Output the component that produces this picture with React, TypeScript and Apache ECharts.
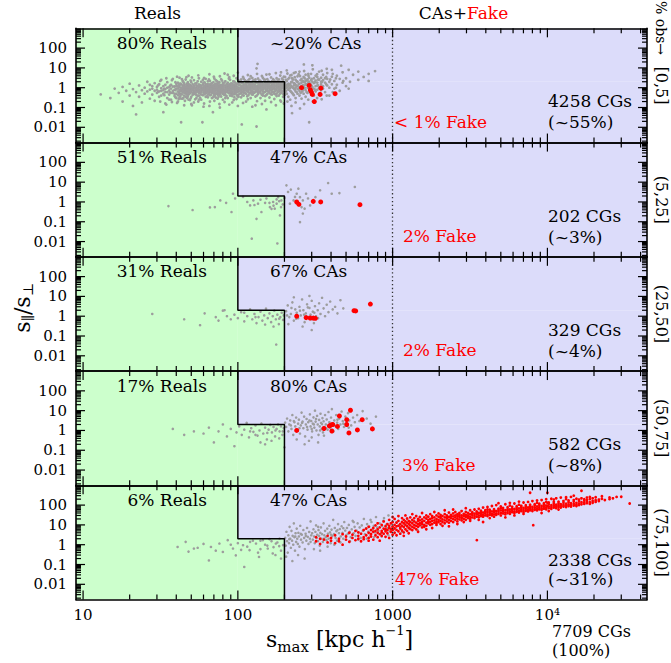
import React, { useEffect, useRef } from "react";
import * as echarts from "echarts";

// ---------- axis ranges & ticks ----------
const X_MIN = 9.0;
const X_MAX = 44000;
const Y_MIN = 0.0017;
const Y_MAX = 1000;
const X_TICKS = [10, 100, 1000, 10000];
const X_TICK_LABELS = ["10", "100", "1000", "10\u2074"];
const Y_TICKS = [0.01, 0.1, 1, 10, 100];
const Y_TICK_LABELS = ["0.01", "0.1", "1", "10", "100"];
const MINOR_MULT = [2, 3, 4, 5, 6, 7, 8, 9];
const X_DECADES = [1, 10, 100, 1000, 10000];
const Y_DECADES = [0.001, 0.01, 0.1, 1, 10, 100];

// ---------- selection boundaries ----------
const STEP: number[][] = [[100, Y_MAX], [100, 2], [200, 2], [200, Y_MIN]];
const FAKE_LINE_X = 1000;

// ---------- panel texts ----------
const BINS = ["[0,5]", "(5,25]", "(25,50]", "(50,75]", "(75,100]"];
const REALS_PCT = ["80% Reals", "51% Reals", "31% Reals", "17% Reals", "6% Reals"];
const CAS_PCT = ["~20% CAs", "47% CAs", "67% CAs", "80% CAs", "47% CAs"];
const FAKE_PCT = ["< 1% Fake", "2% Fake", "2% Fake", "3% Fake", "47% Fake"];
const CG_COUNTS = [4258, 202, 329, 582, 2338];
const CG_SHARE = ["(~55%)", "(~3%)", "(~4%)", "(~8%)", "(~31%)"];
const TOTAL_COUNT = 7709;
const TOTAL_SHARE = "(100%)";

type Cols = [number, number[]][];

// ---------- panel 1: [0,5] ----------
const GRAY_1: Cols = [
  [13, [0.46]], [15, [0.3]], [16, [0.9]], [17, [0.55]], [18, [0.2, 1.1]], [19, [0.7]], [20, [0.4, 1.6]],
  [21, [0.12, 0.85]], [22, [0.045, 0.6]], [23, [1.3, 0.35]], [24, [0.75, 0.18]], [25, [1.0, 0.5]],
  [26, [2.0, 0.65]], [27, [0.28, 1.4, 0.8]], [28, [0.9, 0.45, 1.2]], [29, [0.7, 1.7, 0.22]],
  [30, [1.1, 0.55, 0.8]], [31, [0.35, 1.5, 0.65]], [32, [2.5, 0.95, 0.4, 0.7]], [33, [0.058, 0.75, 1.2, 0.5]],
  [34, [0.16, 0.85, 0.6, 1.4]], [35, [1.9, 0.6, 0.3, 1.0]], [36, [1.05, 0.72, 0.45, 0.25]],
  [37, [1.4, 0.25, 0.9, 0.55]], [38, [0.55, 2.8, 0.68, 1.15]], [39, [1.15, 0.38, 0.8, 0.5]],
  [40, [0.5, 1.6, 0.9, 0.3, 1.2]], [41, [0.9, 0.42, 1.8, 0.2, 0.65, 1.2]], [42, [0.65, 1.25, 0.33, 3.2, 0.8, 0.5]],
  [43, [0.018, 0.8, 1.5, 0.5, 1.0, 0.28, 0.7]], [44, [1.0, 0.28, 0.6, 2.2, 0.85, 1.3]],
  [45, [0.75, 1.35, 0.4, 0.13, 0.55, 1.7, 0.95]], [46, [0.55, 1.1, 2.6, 0.85, 0.35, 0.7]],
  [47, [0.95, 0.3, 1.6, 0.62, 1.2, 0.45, 0.8]], [48, [0.7, 0.45, 1.2, 4.0, 0.9, 0.25, 1.5]],
  [49, [1.4, 0.8, 0.24, 0.52, 1.0, 0.62]], [50, [0.9, 0.6, 1.9, 0.35, 1.2, 0.75, 0.15]],
  [52, [0.72, 1.3, 0.18, 0.48, 2.4, 0.95, 0.6, 1.1]], [54, [1.05, 0.58, 0.3, 1.7, 0.8, 0.42, 1.3]],
  [56, [0.82, 0.4, 1.45, 3.0, 0.66, 1.1, 0.25, 0.55]], [58, [0.95, 0.25, 0.6, 2.0, 1.25, 0.75, 0.45]],
  [59, [0.018]], [60, [0.7, 1.25, 0.45, 0.11, 1.8, 0.9, 0.58, 1.05]], [62, [1.1, 0.52, 0.85, 2.8, 0.35, 0.68, 1.5]],
  [64, [0.6, 1.5, 0.33, 0.95, 1.2, 0.78, 0.45, 2.1]], [66, [0.78, 2.2, 0.42, 1.2, 0.2, 0.95, 0.6, 1.45]],
  [68, [1.0, 0.55, 1.7, 0.3, 0.82, 1.3, 0.68]], [69, [0.058]], [70, [0.88, 0.38, 1.35, 3.6, 0.65, 1.1, 0.5, 0.75]],
  [72, [1.15, 0.5, 2.4, 0.75, 0.95, 0.32, 1.6]], [74, [0.62, 1.05, 0.28, 1.6, 0.85, 1.3, 0.45, 2.0]],
  [76, [0.95, 0.44, 1.9, 0.7, 0.15, 1.2, 0.58, 0.82]], [78, [1.3, 0.6, 0.36, 2.7, 0.9, 1.05, 0.72]],
  [80, [0.8, 1.15, 0.5, 1.75, 0.25, 0.95, 0.62, 1.4]], [83, [1.0, 0.42, 2.1, 0.68, 1.25, 0.85, 0.55, 0.3]],
  [86, [0.72, 1.45, 0.3, 4.5, 0.95, 1.15, 0.6, 1.8]], [89, [1.2, 0.55, 0.85, 2.5, 0.4, 1.0, 0.7, 1.5]],
  [92, [0.65, 1.6, 0.38, 1.05, 0.18, 0.88, 1.3, 0.52]], [95, [0.9, 0.48, 2.0, 1.3, 0.7, 1.1, 0.33, 0.6]],
  [98, [1.1, 0.6, 0.27, 3.0, 0.78, 1.45, 0.92, 0.45]], [101, [0.85, 1.4, 0.45, 2.3, 1.0, 0.65, 1.7, 0.35]],
  [105, [1.0, 0.55, 1.8, 0.33, 0.72, 1.25, 0.88, 2.6]], [106, [0.014]],
  [109, [1.25, 0.68, 0.4, 2.9, 0.95, 1.5, 0.55, 0.8]], [113, [0.9, 1.6, 0.5, 0.2, 1.1, 0.72, 1.3, 2.1]],
  [117, [1.35, 0.75, 2.4, 0.42, 1.0, 0.6, 1.7, 0.88]], [121, [0.95, 1.9, 0.58, 0.3, 3.8, 1.2, 0.75, 1.45]],
  [125, [1.15, 0.65, 1.55, 0.45, 0.9, 2.2, 1.3, 0.52]], [130, [0.8, 1.3, 2.6, 0.36, 0.13, 1.05, 0.62, 1.7]],
  [132, [0.011, 9.5]], [134, [16]], [135, [1.05, 0.6, 1.75, 0.48, 1.3, 0.85, 2.9, 0.7]],
  [140, [1.4, 0.72, 0.3, 2.2, 0.92, 1.15, 0.55, 1.8]], [145, [0.85, 1.2, 0.5, 3.2, 1.0, 0.66, 1.55, 0.4]],
  [150, [1.1, 0.62, 1.85, 0.38, 0.22, 0.9, 1.35, 2.5]], [155, [0.95, 1.5, 0.7, 2.7, 1.2, 0.48, 0.82, 1.9]],
  [160, [1.25, 0.55, 0.9, 4.8, 0.32, 1.6, 1.05, 0.7]], [166, [0.8, 1.6, 0.45, 1.15, 2.1, 0.95, 0.6, 1.35]],
  [172, [1.05, 2.3, 0.6, 0.27, 1.4, 0.85, 1.8, 0.5]], [178, [0.75, 1.3, 0.5, 3.0, 1.1, 1.7, 0.9, 0.38]],
  [184, [1.2, 0.65, 1.9, 0.4, 1.0, 2.6, 0.8, 1.45]], [190, [0.9, 1.5, 0.55, 6.0, 0.2, 1.25, 0.72, 2.0]],
  [196, [1.1, 0.7, 2.5, 0.35, 1.6, 0.95, 1.3, 0.5]], [202, [1.3, 0.6, 3.5, 0.9, 1.8, 0.45]],
  [207, [7.5, 1.0, 0.5, 2.2, 1.4]], [212, [0.8, 2.8, 0.35, 1.2, 1.6]], [218, [1.5, 0.7, 4.2, 1.0, 0.25]],
  [224, [1.1, 2.0, 0.55, 0.052, 3.0]], [230, [0.9, 1.7, 0.42, 1.3, 5.5]], [236, [1.4, 0.65, 2.5, 0.3, 1.0]],
  [243, [2.0, 0.85, 1.2, 0.5, 3.8]], [250, [1.0, 1.6, 0.4, 6.5, 0.7]], [258, [1.8, 0.6, 2.8, 1.2, 0.28]],
  [266, [1.3, 0.9, 3.5, 0.5, 2.0]], [267, [15]], [274, [0.75, 2.2, 1.5, 0.35, 4.5]], [282, [1.6, 0.55, 1.0, 2.6]],
  [289, [0.018, 1.2, 3.2, 0.7, 1.9]], [297, [2.4, 0.85, 1.4, 0.45, 5.0]], [303, [13.5, 1.1, 0.6, 2.0]],
  [310, [1.7, 3.0, 0.9, 0.4]], [318, [1.2, 2.3, 0.65, 4.0]], [326, [0.8, 1.8, 3.5, 1.3]],
  [335, [2.6, 1.0, 0.5, 6.5]], [345, [1.5, 3.2, 0.75, 2.0]], [355, [0.9, 2.4, 4.5, 1.2]],
  [366, [1.8, 0.6, 3.0]], [378, [2.8, 1.3, 5.5]], [390, [1.0, 2.0, 0.4]], [405, [3.6, 1.5, 8.0]],
  [420, [2.2, 0.9]], [436, [1.4, 4.0]], [455, [2.8, 0.7]], [465, [13]], [475, [1.8, 6.0]], [500, [3.0, 1.2]],
  [530, [2.0]], [555, [4.5]], [600, [2.5, 6.5]], [650, [3.5]], [700, [5.0, 2.2]], [770, [6.9]],
  // in-between columns of the dense core
  [30.5, [0.62, 1.3]], [33.5, [0.9, 0.42]], [36.5, [0.58, 1.25]], [39.5, [0.75, 0.33, 1.9]],
  [41.5, [1.05, 0.56, 0.27, 1.45]], [42.5, [0.74, 1.62, 0.38]], [43.5, [0.93, 0.46, 2.7]],
  [44.5, [0.68, 1.15, 0.31, 1.9]], [45.5, [1.08, 0.63, 0.22]], [46.5, [0.79, 1.42, 0.48, 3.4]],
  [47.5, [0.58, 1.05, 0.36, 1.9]], [48.5, [0.84, 1.33, 0.52]], [49.5, [0.66, 1.12, 0.29, 2.3]],
  [51, [0.81, 1.48, 0.44, 0.57, 1.02]], [53, [0.93, 0.51, 1.62, 0.26, 0.7]], [55, [0.66, 1.18, 0.39, 2.1, 0.86]],
  [57, [1.02, 0.54, 1.36, 0.31, 0.73]], [59.5, [0.77, 1.5, 0.42, 2.5, 0.95]], [61, [0.88, 0.49, 1.23, 0.64, 1.85]],
  [63, [1.07, 0.6, 0.36, 1.4, 0.82]], [65, [0.7, 1.31, 0.5, 2.6, 0.96]], [67, [0.92, 0.44, 1.56, 0.66, 1.13]],
  [69.5, [0.81, 1.22, 0.34, 1.9, 0.57]], [71, [1.02, 0.62, 1.47, 0.41, 0.77]], [73, [0.74, 1.28, 0.52, 2.2, 0.93]],
  [75, [1.1, 0.56, 1.68, 0.35, 0.83]], [77, [0.86, 1.39, 0.47, 0.69, 1.05]], [79, [0.97, 0.58, 2.3, 0.78, 1.22]],
  [81.5, [0.73, 1.31, 0.44, 1.8, 0.6]], [84.5, [1.12, 0.64, 1.52, 0.38, 0.87]], [87.5, [0.81, 1.26, 0.53, 2.9, 0.98]],
  [90.5, [1.05, 0.59, 1.66, 0.42, 0.76]], [93.5, [0.88, 1.44, 0.48, 2.1, 1.16]], [96.5, [0.72, 1.22, 0.55, 0.95, 1.75]],
  [99.5, [1.03, 0.63, 1.58, 0.37, 0.82]], [103, [0.92, 1.32, 0.5, 2.0, 0.7]], [107, [1.15, 0.61, 1.72, 0.43, 0.86]],
  [111, [0.8, 1.41, 0.55, 2.4, 1.02]], [115, [1.08, 0.66, 1.9, 0.37, 0.84]], [119, [0.89, 1.5, 0.52, 1.18, 2.8]],
  [123, [1.22, 0.7, 1.66, 0.46, 0.95]], [127.5, [0.84, 1.4, 0.56, 2.4, 1.12]], [132.5, [1.14, 0.68, 1.92, 0.4, 0.9]],
  [137.5, [0.93, 1.58, 0.6, 1.2, 2.3]], [142.5, [1.25, 0.76, 1.75, 0.45, 1.0]], [147.5, [0.96, 1.45, 0.58, 2.6, 1.15]],
  [152.5, [1.2, 0.7, 1.7, 0.42, 0.88]], [157.5, [1.02, 1.62, 0.62, 2.2, 1.3]], [163, [1.15, 0.75, 1.8, 0.48, 0.92]],
  [169, [0.98, 1.52, 0.63, 2.7, 1.2]], [175, [1.27, 0.72, 1.95, 0.46, 0.88]], [181, [1.05, 1.6, 0.6, 2.3, 1.3]],
  [187, [1.32, 0.78, 1.85, 0.5, 0.98]], [193, [1.08, 1.7, 0.64, 2.9, 1.2]], [199, [1.24, 0.8, 1.6, 0.44]],
  [205, [1.1, 2.5, 0.7]], [215, [1.4, 0.95, 3.2]], [221, [1.9, 0.62, 1.2]], [227, [1.0, 2.6, 0.48]],
  [233, [1.6, 0.8, 3.4]], [240, [1.2, 2.1, 0.6]], [247, [1.5, 0.9, 4.8]], [254, [1.1, 2.4, 0.55]],
  [262, [2.2, 1.3, 0.7]], [270, [1.0, 1.9, 3.0]], [278, [1.4, 0.6, 2.5]], [286, [2.0, 1.1, 4.0]],
  [293, [1.6, 0.8]], [300, [1.2, 2.8]], [315, [1.9, 0.8]], [330, [1.3, 2.6]], [350, [2.0, 1.0]],
  [372, [1.5, 3.5]], [395, [2.6]], [430, [1.0, 3.0]], [480, [2.2]],
  // outer envelope of the cloud
  [31.5, [0.2, 2.2]], [34.5, [3.0, 0.14]], [37.5, [0.19, 2.4]], [40.5, [3.6, 0.17]], [50.5, [0.13, 3.3]],
  [55.5, [0.2, 4.2]], [60.5, [0.16, 3.1]], [65.5, [0.12, 4.8]], [70.5, [0.22, 2.9]], [76.5, [0.1, 3.8]],
  [82, [0.19, 5.2]], [88, [0.14, 3.4]], [94, [0.24, 4.0]], [100, [0.12, 5.8]], [108, [0.17, 3.5]],
  [116, [0.26, 4.4]], [124, [0.11, 3.1]], [133, [0.21, 5.0]], [143, [0.15, 3.9]], [153, [0.08, 4.6]],
  [164, [0.19, 3.3]], [176, [0.13, 5.5]], [188, [0.23, 4.1]], [198, [0.16, 3.6]], [209, [0.2, 5.2]],
  [222, [0.12, 4.4]], [236, [0.18, 6.0]], [252, [0.09, 3.9]], [268, [0.15, 7.0]], [285, [0.25, 5.0]],
  [305, [0.2, 8.5]], [325, [0.3, 4.8]], [348, [0.26, 7.2]], [375, [0.4, 9.0]], [410, [0.6, 5.0]], [520, [0.9, 8.0]],
];
const RED_1: number[][] = [
  [258, 1.0], [289, 1.3], [294, 0.79], [303, 0.46], [312, 0.2], [340, 0.46], [344, 0.95], [425, 0.5], [298, 0.62],
];

// ---------- panel 2: (5,25] ----------
const GRAY_2: Cols = [
  [35.6, [0.62]], [51, [0.39]], [66, [0.53]], [71, [0.55]], [77, [1.2]], [84, [0.9]], [91, [0.31]], [93, [2.6]],
  [96, [1.5]], [108, [1.8]], [115, [1.0]], [120, [0.67]], [123, [0.014]], [126, [1.2]], [128, [0.7]],
  [132, [0.14]], [135, [0.82]], [140, [1.3]], [142, [0.31]], [150, [0.9]], [153, [1.5]], [160, [0.9]],
  [161, [0.55]], [165, [0.45]], [169, [1.0]], [170, [0.65]], [173, [0.46]], [178, [0.82, 1.35]],
  [180, [0.008]], [182, [1.75]], [185, [1.1]], [187, [0.21]], [190, [0.55]], [191, [1.2]], [195, [0.75]],
  [200, [1.6]], [206, [6.9]], [211, [3.2]], [217, [0.82]], [220, [4.2]], [229, [1.2]], [234, [1.8]],
  [240, [2.6, 0.82]], [246, [4.7]], [252, [1.75, 0.096]], [258, [0.55]], [263, [1.2, 0.26]], [270, [0.46]],
  [276, [2.6]], [284, [1.5]], [293, [0.67]], [307, [1.0]], [317, [1.75]], [340, [3.9]], [383, [9.0]],
  [404, [2.6]], [453, [2.8]], [570, [5.7]],
];
const RED_2: number[][] = [[240, 1.0], [248, 0.76], [307, 1.07], [343, 1.0], [615, 0.73]];

// ---------- panel 3: (25,50] ----------
const GRAY_3: Cols = [
  [28, [1.3]], [45, [0.7]], [57, [0.35]], [61, [1.4]], [72, [0.9]], [75, [0.6]], [80, [1.9]], [82, [2.0]],
  [85, [1.0]], [90, [0.7]], [95, [1.2]], [100, [0.8]], [105, [1.6]], [110, [0.55, 1.5]], [115, [1.0]],
  [120, [2.2]], [124, [0.7]], [128, [1.3]], [130, [0.9]], [132, [0.45]], [136, [0.9]], [140, [1.7]],
  [144, [0.6]], [148, [1.1]], [150, [0.38]], [152, [2.4]], [156, [0.8]], [160, [1.4]], [164, [0.5]],
  [168, [1.0]], [170, [0.3]], [172, [1.9]], [176, [0.7]], [177, [0.037]], [180, [1.2]], [184, [0.4]],
  [185, [0.75]], [188, [0.9]], [192, [1.5]], [196, [0.65]], [198, [1.1]], [205, [1.8]], [208, [1.1]],
  [210, [3.5]], [212, [0.4]], [215, [0.9]], [220, [1.3]], [222, [2.6]], [225, [5.0]], [230, [0.6, 9.0]],
  [235, [2.2]], [238, [0.75]], [240, [1.5]], [245, [0.8]], [250, [3.0]], [252, [1.9]], [255, [1.1]],
  [260, [7.0]], [262, [0.3]], [265, [2.0]], [268, [1.2]], [270, [0.5]], [275, [1.4]], [280, [4.0]],
  [283, [2.8]], [285, [0.9]], [290, [2.6, 10.5]], [295, [1.2]], [298, [0.7]], [300, [6.0, 0.2]],
  [305, [1.7]], [310, [0.45]], [312, [1.5]], [315, [3.2]], [320, [1.0]], [328, [2.0]], [330, [0.8]],
  [335, [4.5]], [342, [1.3]], [350, [8.5]], [358, [2.5]], [366, [1.0]], [375, [3.8]], [385, [1.6]],
  [395, [5.5]], [410, [2.2]], [425, [3.0]], [440, [1.4]], [460, [6.4]], [480, [2.5]],
];
const RED_3: number[][] = [
  [240, 1.0], [276, 0.85], [293, 0.81], [307, 0.8], [317, 0.78], [563, 1.9], [577, 1.85], [718, 4.1],
];

// ---------- panel 4: (50,75] ----------
const GRAY_4: Cols = [
  [38, [1.2]], [45, [0.6]], [52, [0.9]], [60, [0.7]], [65, [1.4]], [70, [0.25]], [75, [0.9]], [80, [2.0]],
  [85, [0.5]], [90, [1.2]], [95, [0.16]], [98, [0.8]], [102, [1.6]], [106, [0.6]], [110, [1.1]],
  [114, [2.4]], [118, [0.45]], [120, [0.9]], [122, [1.3]], [126, [0.85]], [130, [1.8, 0.6]], [134, [0.55]],
  [138, [1.0]], [140, [0.25]], [142, [2.2]], [146, [0.7]], [150, [1.4, 0.2]], [154, [0.35]], [155, [0.75]],
  [158, [1.1]], [162, [1.9]], [165, [0.3]], [166, [0.8]], [170, [1.5]], [174, [0.5]], [175, [1.0]],
  [178, [1.2]], [182, [2.0]], [185, [0.4]], [186, [0.9]], [190, [1.6]], [194, [0.6]], [195, [0.9]],
  [198, [1.3]], [200, [0.14]], [202, [2.5]], [205, [1.5]], [208, [4.0]], [212, [0.9]], [215, [2.0]],
  [218, [3.2]], [220, [1.8]], [222, [1.2]], [225, [6.0]], [228, [0.6]], [230, [3.0]], [232, [2.6]],
  [235, [1.6]], [238, [4.5]], [240, [0.35]], [242, [1.0]], [245, [2.2]], [248, [3.5]], [250, [1.3]],
  [252, [0.7]], [255, [1.8]], [258, [8.0]], [260, [2.4]], [262, [2.8]], [265, [1.3]], [268, [5.0]],
  [270, [0.2]], [272, [0.5]], [275, [2.0]], [278, [3.8]], [280, [1.5]], [282, [1.1]], [285, [2.6]],
  [288, [0.3]], [290, [3.2]], [292, [6.5]], [295, [1.6]], [298, [3.0]], [300, [0.45, 1.2]], [302, [0.9]],
  [305, [2.2]], [308, [4.6]], [310, [2.0]], [312, [1.4]], [315, [10.0]], [318, [2.8]], [320, [3.8]],
  [322, [1.0]], [325, [5.5]], [328, [2.0]], [330, [0.25]], [332, [0.6]], [335, [3.4]], [338, [1.6]],
  [340, [1.0]], [342, [7.0]], [345, [2.4]], [348, [1.2]], [350, [2.1]], [352, [4.2]], [355, [0.8]],
  [358, [2.9]], [360, [0.55]], [362, [1.5]], [366, [6.0]], [370, [2.0, 1.3]], [375, [3.6]], [380, [1.1]],
  [385, [8.5]], [390, [2.6]], [395, [1.4]], [400, [4.5, 1.7]], [405, [12.0]], [410, [2.2]], [415, [0.9]],
  [420, [3.2]], [426, [1.7]], [432, [6.0]], [438, [2.5]], [440, [3.5]], [445, [1.2]], [452, [4.0]],
  [460, [2.0]], [468, [9.0]], [476, [3.0]], [480, [2.2]], [485, [1.5]], [495, [5.0]], [505, [2.4]],
  [515, [7.5]], [520, [1.4]], [525, [3.2]], [540, [1.8]], [555, [4.5]], [570, [2.6]], [590, [6.0]],
  [610, [3.0]], [640, [9.5]], [680, [4.0]], [720, [2.2]], [780, [5.0]],
];
const RED_4: number[][] = [
  [240, 1.0], [360, 1.25], [390, 1.7], [400, 1.9], [410, 2.0], [405, 0.94], [440, 1.6], [453, 5.4],
  [505, 3.5], [505, 2.0], [534, 10.5], [522, 0.75], [592, 1.06], [636, 3.5], [740, 1.2],
];

// ---------- panel 5: (75,100] ----------
const GRAY_5: Cols = [
  [40.8, [0.77]], [46, [1.4]], [48, [0.45]], [52, [0.64]], [55, [0.7]], [60, [1.1]], [65, [0.16]],
  [67, [0.77]], [72, [0.5]], [76, [1.15]], [80, [0.43]], [86, [1.7]], [90, [1.0]], [93, [0.64]],
  [97, [0.29]], [100, [1.2]], [105, [0.55]], [108, [0.94]], [110, [0.075]], [115, [0.8]], [119, [0.53]],
  [120, [1.4]], [125, [1.6]], [131, [1.15]], [135, [0.4]], [137, [0.24]], [140, [0.6, 1.6]], [145, [1.7]],
  [150, [1.0]], [155, [0.9]], [156, [0.64]], [160, [1.9]], [165, [1.5]], [168, [0.36]], [170, [0.75]],
  [175, [0.3]], [176, [1.15]], [180, [1.3]], [185, [0.85]], [186, [2.05]], [190, [0.5, 0.2]], [196, [0.95]],
  [202, [2.2]], [204, [0.9]], [205, [0.25]], [206, [4.5]], [208, [1.5]], [210, [0.4]], [212, [3.0]],
  [214, [1.2]], [215, [1.9]], [216, [8.0]], [218, [2.0]], [220, [0.7]], [222, [5.0]], [224, [1.6]],
  [225, [0.15]], [226, [2.8]], [228, [1.0]], [230, [12]], [232, [2.4]], [234, [0.5]], [235, [2.6]],
  [236, [3.8]], [238, [1.4]], [240, [6.5]], [242, [2.0]], [244, [1.1]], [245, [0.3]], [246, [4.0]],
  [248, [2.6]], [250, [0.8]], [253, [9.0]], [255, [3.5]], [256, [1.8]], [259, [3.2]], [262, [1.3]],
  [265, [5.5]], [268, [2.2]], [270, [0.2]], [271, [0.6]], [274, [3.6]], [275, [2.8]], [277, [1.6]],
  [280, [7.0]], [283, [2.5]], [286, [1.1]], [289, [4.4]], [292, [2.0]], [295, [15, 1.4]], [298, [3.0]],
  [302, [3.8]], [305, [1.8]], [308, [6.0]], [310, [0.6]], [311, [2.6]], [314, [1.2]], [317, [4.5]],
  [320, [9.5]], [323, [2.2]], [326, [3.2]], [329, [1.5]], [330, [8.0]], [332, [5.5]], [335, [2.8]],
  [338, [0.9]], [340, [0.5]], [341, [4.0]], [344, [7.5]], [347, [2.0]], [350, [3.4]], [354, [1.4]],
  [358, [12]], [360, [2.0]], [362, [3.0]], [366, [5.0]], [370, [2.4]], [374, [1.7]], [378, [6.5]],
  [380, [0.8]], [382, [3.6]], [386, [2.0]], [390, [9.0]], [394, [4.2]], [398, [1.2]], [400, [3.2]],
  [403, [5.8]], [408, [2.8]], [413, [18]], [418, [3.4]], [420, [1.0]], [423, [7.0]], [428, [2.2]],
  [433, [4.8]], [438, [1.6]], [440, [5.5]], [444, [11]], [450, [3.8]], [456, [6.2]], [460, [1.3]],
  [462, [2.6]], [468, [8.5]], [474, [4.0]], [480, [2.0, 6.8]], [487, [14]], [494, [5.2]], [500, [3.0]],
  [507, [7.0]], [514, [3.6]], [521, [10]], [528, [4.5]], [530, [1.5]], [536, [2.4]], [544, [6.0]],
  [552, [16]], [560, [3.8, 14]], [568, [8.0]], [576, [2.8]], [585, [5.2]], [594, [12]], [600, [1.8]],
  [603, [4.2]], [612, [7.5]], [622, [2.2]], [632, [9.5]], [642, [5.0]], [652, [20]], [662, [3.4]],
  [673, [6.8]], [680, [2.0]], [684, [11]], [695, [4.6]], [706, [8.2]], [718, [3.0]], [720, [18]],
  [730, [14]], [742, [6.0]], [755, [9.0]], [760, [2.4]], [768, [4.2]], [781, [25]], [795, [7.4]],
  [810, [5.0]], [825, [12]], [840, [3.6]], [850, [2.6]], [856, [8.8]], [872, [16]], [880, [22]],
  [888, [5.8]], [905, [10]], [922, [7.0]], [940, [30, 3.0]], [958, [4.8]], [977, [12]], [995, [8.5]],
  [1020, [6.0]], [1060, [14]], [1100, [9.0]], [1150, [4.5]], [1200, [11]], [1280, [7.5]], [1350, [16]],
  [1450, [5.5]], [1550, [9.5]], [1700, [12]],
];
const RED_5: Cols = [
  [320, [1.5, 2.4]], [340, [1.1, 2.0]], [360, [1.8]], [380, [1.3, 2.8]], [400, [2.2, 1.6]], [425, [1.2, 3.0]],
  [450, [2.0, 1.5]], [475, [3.4, 1.0]], [500, [2.6, 1.8]], [525, [4.0, 1.4]], [550, [2.2, 3.2]],
  [575, [1.7, 5.0]], [600, [2.8, 2.0, 4.2]], [625, [1.5, 3.6]], [650, [5.5, 2.4, 1.9]], [675, [3.0, 6.5]],
  [700, [2.2, 4.0, 8.0, 1.6]], [725, [3.5, 5.5, 2.6]], [750, [7.0, 1.8, 4.5]], [775, [3.0, 9.5, 5.0]],
  [800, [2.4, 6.0, 4.0, 12]], [825, [3.4, 7.5, 1.6]], [850, [5.0, 10, 2.8, 4.2]], [875, [6.5, 3.6, 15]],
  [900, [4.8, 8.5, 2.5, 6.0]], [925, [11, 3.8, 5.5]], [950, [7.0, 2.2, 18, 9.0]], [975, [4.5, 12, 6.2]],
  [1000, [8.0, 3.2, 25, 5.5, 14]], [1030, [10, 4.0, 6.8, 20]], [1060, [5.6, 13, 3.0, 8.5]],
  [1090, [9.2, 16, 4.8, 28]], [1120, [6.5, 11, 3.6, 7.5]], [1150, [14, 5.2, 22, 9.0]],
  [1180, [7.8, 12, 4.2, 18, 2.8]], [1210, [10, 6.0, 30, 15]], [1240, [8.5, 13, 5.0, 21]],
  [1270, [11, 7.0, 16, 3.8]], [1300, [9.5, 24, 6.2, 14]], [1340, [12, 8.0, 18, 5.5, 35]],
  [1380, [10, 15, 7.2, 22]], [1420, [13, 9.0, 28, 6.0]], [1460, [16, 11, 8.0, 20, 4.5]],
  [1500, [12, 25, 9.5, 17]], [1550, [14, 7.5, 19, 40, 11]], [1600, [16, 10, 24, 8.0]],
  [1650, [13, 21, 30, 9.0, 6.0]], [1700, [18, 12, 26, 15]], [1750, [14, 35, 10, 20]],
  [1800, [22, 16, 11, 28, 7.0]], [1860, [17, 13, 24, 45]], [1920, [20, 15, 30, 10, 12]],
  [1980, [18, 26, 14, 38]], [2040, [22, 16, 11, 32, 25]], [2100, [19, 28, 14, 9.0]],
  [2170, [24, 17, 35, 12, 55]], [2240, [21, 30, 15, 26]], [2310, [25, 18, 42, 13, 8.5]],
  [2380, [22, 32, 16, 28]], [2460, [27, 20, 38, 14, 60]], [2540, [24, 30, 18, 45]],
  [2620, [28, 21, 35, 15, 11]], [2700, [26, 40, 19, 32]], [2790, [30, 22, 50, 17, 24]],
  [2880, [28, 36, 20, 14]], [2970, [32, 25, 45, 18, 70]], [3070, [30, 40, 22, 28]],
  [3170, [35, 26, 55, 20, 16]], [3270, [32, 44, 24, 38]], [3380, [37, 28, 60, 22]], [3500, [1.7]],
  [3490, [34, 48, 26, 40]], [3600, [40, 30, 65, 24, 18]], [3720, [36, 52, 28, 44]],
  [3840, [42, 32, 75, 26, 14]], [3970, [38, 55, 30, 46]], [4100, [45, 34, 80, 28, 60]],
  [4240, [40, 58, 32, 50, 22]], [4380, [48, 36, 90, 30]], [4520, [44, 62, 34, 52, 26]],
  [4670, [50, 38, 100, 32]], [4830, [46, 66, 36, 56, 125]], [5000, [54, 40, 85, 30, 70]],
  [5170, [48, 72, 38, 58]], [5350, [56, 42, 110, 34, 24]], [5530, [52, 78, 40, 62]],
  [5720, [60, 46, 95, 36, 130]], [5920, [55, 82, 44, 66]], [6120, [64, 48, 120, 40, 30]],
  [6330, [58, 88, 46, 72]], [6550, [68, 52, 105, 42, 150]], [6780, [62, 92, 50, 78]],
  [7010, [72, 56, 135, 45, 36]], [7250, [66, 100, 52, 82]], [7500, [76, 58, 145, 48]],
  [7730, [420, 70, 105, 55, 88]], [8000, [80, 62, 160, 50]], [8100, [9.7]], [8280, [74, 112, 58, 95]],
  [8570, [85, 66, 170, 54, 130]], [8860, [78, 118, 62, 100]], [9170, [90, 70, 180, 58, 40]],
  [9490, [82, 125, 66, 105]], [9820, [95, 75, 200, 62, 145]], [10000, [420, 88, 130]],
  [10200, [86, 135, 70, 110, 50]], [10600, [100, 80, 210, 65]], [11000, [92, 145, 75, 118, 190]],
  [11400, [105, 85, 220, 70]], [11800, [98, 150, 80, 125, 60]], [12200, [110, 90, 240, 75]],
  [12700, [102, 160, 85, 130]], [13200, [118, 95, 250, 80, 200]], [13700, [108, 170, 90, 140]],
  [14200, [125, 100, 260, 85]], [14800, [115, 180, 95, 150, 300]], [15400, [130, 105, 210, 90]],
  [16000, [120, 190, 100, 160]], [16600, [530, 140, 110, 220]], [17300, [135, 115, 200, 170]],
  [18000, [150, 240, 125, 180]], [18800, [140, 200, 115, 260]], [19600, [160, 130, 220]],
  [20500, [175, 250, 145]], [21500, [190, 160]], [22500, [210, 280]], [23500, [180]], [25200, [245, 200]],
  [26500, [220]], [28000, [260]], [30000, [265]], [34000, [120]],
];

const flat = (cols: Cols): number[][] => cols.flatMap(([x, ys]) => ys.map((y) => [x, y]));
const GRAY = [GRAY_1, GRAY_2, GRAY_3, GRAY_4, GRAY_5].map(flat);
const RED = [RED_1, RED_2, RED_3, RED_4, flat(RED_5)];

// ---------- styling / layout ----------
const FONT = "DejaVu Serif";
const C_GREEN = "#ccffcc";
const C_BLUE = "#dcdcfa";
const C_GRAY = "#9d9d9d";
const C_RED = "#ff0000";
const GRID_LEFT = 76;
const GRID_RIGHT = 24;
const GRID_TOP = 28.3;
const PANEL_H = 114.25;
const PLOT_W = 671 - GRID_LEFT - GRID_RIGHT;
const FAKE_TEXT_X = [394, 403, 403, 402, 395];
const MAJOR_LEN = 9;
const MINOR_LEN = 5;

const X_MINOR = X_DECADES.flatMap((d) => MINOR_MULT.map((m) => m * d)).filter((v) => v > X_MIN && v < X_MAX);
const Y_MINOR = Y_DECADES.flatMap((d) => MINOR_MULT.map((m) => +(m * d).toPrecision(3))).filter(
  (v) => v > Y_MIN && v < Y_MAX
);

// same linear-in-log mapping the log axes of each grid use (decoration only: frame ticks)
const xPix = (v: number) => GRID_LEFT + (PLOT_W * Math.log(v / X_MIN)) / Math.log(X_MAX / X_MIN);
const yPix = (i: number, v: number) =>
  GRID_TOP + i * PANEL_H + PANEL_H * (1 - Math.log(v / Y_MIN) / Math.log(Y_MAX / Y_MIN));

function frameTicks(chart: echarts.ECharts | null) {
  const out: any[] = [];
  const style = { stroke: "#000", lineWidth: 1.2 };
  for (let i = 0; i < 5; i++) {
    const toPx = (x: number, y: number): number[] => {
      let p: any = null;
      try {
        p = chart ? chart.convertToPixel({ gridIndex: i } as any, [x, y]) : null;
      } catch (e) {
        p = null;
      }
      if (!p || !isFinite(p[0]) || !isFinite(p[1])) p = [xPix(x), yPix(i, y)];
      return p;
    };
    const xs: [number, number][] = [
      ...X_TICKS.map((v) => [v, MAJOR_LEN] as [number, number]),
      ...X_MINOR.map((v) => [v, MINOR_LEN] as [number, number]),
    ];
    for (const [v, len] of xs) {
      const b = toPx(v, Y_MIN);
      const t = toPx(v, Y_MAX);
      out.push({ type: "line", zlevel: 1, z: 100, silent: true, shape: { x1: b[0], y1: b[1], x2: b[0], y2: b[1] - len }, style });
      out.push({ type: "line", zlevel: 1, z: 100, silent: true, shape: { x1: t[0], y1: t[1], x2: t[0], y2: t[1] + len }, style });
    }
    const ys: [number, number][] = [
      ...Y_TICKS.map((v) => [v, MAJOR_LEN] as [number, number]),
      ...Y_MINOR.map((v) => [v, MINOR_LEN] as [number, number]),
    ];
    for (const [v, len] of ys) {
      const l = toPx(X_MIN, v);
      const r = toPx(X_MAX, v);
      out.push({ type: "line", zlevel: 1, z: 100, silent: true, shape: { x1: l[0], y1: l[1], x2: l[0] + len, y2: l[1] }, style });
      out.push({ type: "line", zlevel: 1, z: 100, silent: true, shape: { x1: r[0], y1: r[1], x2: r[0] - len, y2: r[1] }, style });
    }
  }
  return out;
}

function buildOption(chart: echarts.ECharts | null) {
  const grids: any[] = [];
  const xAxes: any[] = [];
  const yAxes: any[] = [];
  const series: any[] = [];
  const graphics: any[] = [];
  const axisLine = { show: true, onZero: false, lineStyle: { color: "#000", width: 1.6 } };

  for (let i = 0; i < 5; i++) {
    const top = GRID_TOP + i * PANEL_H;
    grids.push({ left: GRID_LEFT, right: GRID_RIGHT, top, height: PANEL_H, outerBoundsMode: "none" });
    const xc = {
      type: "log",
      gridIndex: i,
      min: X_MIN,
      max: X_MAX,
      splitLine: { show: false },
      axisTick: { show: false },
      axisLine,
      z: 8,
    };
    const yc = {
      type: "log",
      gridIndex: i,
      min: Y_MIN,
      max: Y_MAX,
      splitLine: { show: false },
      axisTick: { show: false },
      axisLine,
      z: 8,
    };
    xAxes.push({
      ...xc,
      position: "bottom",
      axisLabel: {
        show: i === 4,
        customValues: X_TICKS,
        margin: 8,
        color: "#000",
        fontFamily: FONT,
        fontSize: 15,
        formatter: (v: number) => X_TICK_LABELS[X_TICKS.findIndex((t) => Math.abs(t - v) / t < 1e-6)] ?? "",
      },
    });
    xAxes.push({ ...xc, position: "top", axisLabel: { show: false } });
    yAxes.push({
      ...yc,
      position: "left",
      axisLabel: {
        show: true,
        customValues: Y_TICKS,
        margin: 9,
        color: "#000",
        fontFamily: FONT,
        fontSize: 15,
        formatter: (v: number) => Y_TICK_LABELS[Y_TICKS.findIndex((t) => Math.abs(t - v) / t < 1e-6)] ?? "",
      },
    });
    yAxes.push({ ...yc, position: "right", axisLabel: { show: false } });

    const ax = { xAxisIndex: 2 * i, yAxisIndex: 2 * i };
    series.push({
      type: "line",
      ...ax,
      data: STEP,
      symbol: "none",
      z: 5,
      lineStyle: { color: "#000", width: 1.5 },
      markArea: {
        silent: true,
        z: 1,
        label: { show: false },
        data: [
          [{ coord: [X_MIN, Y_MIN], itemStyle: { color: C_GREEN, opacity: 1 } }, { coord: [STEP[0][0], Y_MAX] }],
          [{ coord: [STEP[1][0], Y_MIN], itemStyle: { color: C_GREEN, opacity: 1 } }, { coord: [STEP[2][0], STEP[1][1]] }],
          [{ coord: [STEP[1][0], STEP[1][1]], itemStyle: { color: C_BLUE, opacity: 1 } }, { coord: [X_MAX, Y_MAX] }],
          [{ coord: [STEP[2][0], Y_MIN], itemStyle: { color: C_BLUE, opacity: 1 } }, { coord: [X_MAX, STEP[2][1]] }],
        ],
      },
      markLine: {
        silent: true,
        symbol: "none",
        label: { show: false },
        lineStyle: { color: "#333", width: 1.3, type: [1.3, 2.6] },
        data: [{ xAxis: FAKE_LINE_X }],
      },
    });
    series.push({
      type: "scatter",
      ...ax,
      data: GRAY[i],
      symbolSize: i === 0 ? 2.8 : 2.6,
      z: 3,
      itemStyle: { color: C_GRAY, opacity: 1 },
    });
    series.push({
      type: "scatter",
      ...ax,
      data: RED[i],
      symbolSize: i === 4 ? 2.8 : 5,
      z: 4,
      itemStyle: { color: C_RED, opacity: 1 },
    });

    const txt = (text: string, x: number, y: number, align: string, fill = "#000", size = 17) => ({
      type: "text",
      x,
      y,
      z: 10,
      style: { text, fill, align, verticalAlign: "middle", fontFamily: FONT, fontSize: size },
    });
    graphics.push(txt(REALS_PCT[i], 207, top + 14.5, "right"));
    graphics.push(txt(CAS_PCT[i], 270, top + 14.5, "left"));
    graphics.push(txt(FAKE_PCT[i], FAKE_TEXT_X[i], top + 93.5, "left", C_RED));
    graphics.push(txt(CG_COUNTS[i] + " CGs", 548, top + (i === 4 ? 75 : 73), "left"));
    graphics.push(txt(CG_SHARE[i], 548, top + 94, "left"));
    graphics.push({
      type: "text",
      x: 661,
      y: top + PANEL_H / 2,
      rotation: -Math.PI / 2,
      z: 10,
      style: { text: BINS[i], fill: "#000", align: "center", verticalAlign: "middle", fontFamily: FONT, fontSize: 16 },
    });
  }

  graphics.push({
    type: "text",
    x: 157.5,
    y: 13,
    style: { text: "Reals", fill: "#000", align: "center", verticalAlign: "middle", fontFamily: FONT, fontSize: 17 },
  });
  graphics.push({
    type: "text",
    x: 463.5,
    y: 13,
    style: {
      text: "{a|CAs+}{b|Fake}",
      align: "center",
      verticalAlign: "middle",
      rich: {
        a: { fontFamily: FONT, fontSize: 17, fill: "#000", color: "#000" },
        b: { fontFamily: FONT, fontSize: 17, fill: C_RED, color: C_RED },
      },
    },
  });
  graphics.push({
    type: "text",
    x: 661,
    y: 1,
    rotation: -Math.PI / 2,
    style: { text: "% obs\u2192", fill: "#000", align: "left", verticalAlign: "middle", fontFamily: FONT, fontSize: 14 },
  });
  graphics.push({
    type: "text",
    x: 266,
    y: 639,
    style: {
      text: "{m|s}{s|max}{m| [kpc h}{u|\u22121}{m|]}",
      align: "left",
      verticalAlign: "middle",
      rich: {
        m: { fontFamily: FONT, fontSize: 22, fill: "#000", color: "#000", lineHeight: 30 },
        s: { fontFamily: FONT, fontSize: 15, fill: "#000", color: "#000", lineHeight: 12, verticalAlign: "bottom" },
        u: { fontFamily: FONT, fontSize: 13, fill: "#000", color: "#000", lineHeight: 12, verticalAlign: "top" },
      },
    },
  });
  graphics.push({
    type: "text",
    x: 22,
    y: 308,
    rotation: Math.PI / 2,
    style: {
      text: "{m|s}{s|\u2225}{m|/s}{s|\u22a5}",
      align: "center",
      verticalAlign: "middle",
      rich: {
        m: { fontFamily: FONT, fontSize: 22, fill: "#000", color: "#000", lineHeight: 26 },
        s: { fontFamily: FONT, fontSize: 14, fill: "#000", color: "#000", lineHeight: 12, verticalAlign: "bottom" },
      },
    },
  });
  graphics.push({
    type: "text",
    x: 552,
    y: 631,
    style: { text: TOTAL_COUNT + " CGs", fill: "#000", align: "left", verticalAlign: "middle", fontFamily: FONT, fontSize: 16 },
  });
  graphics.push({
    type: "text",
    x: 552,
    y: 650,
    style: { text: TOTAL_SHARE, fill: "#000", align: "left", verticalAlign: "middle", fontFamily: FONT, fontSize: 16 },
  });
  for (const t of frameTicks(chart)) graphics.push(t);

  return {
    animation: false,
    backgroundColor: "#ffffff",
    grid: grids,
    xAxis: xAxes,
    yAxis: yAxes,
    series,
    graphic: graphics,
  };
}

export default function App() {
  const ref = useRef<HTMLDivElement>(null);
  useEffect(() => {
    if (!ref.current) return;
    const chart = echarts.init(ref.current, null, { renderer: "svg" });
    chart.setOption(buildOption(null) as any);
    try {
      chart.setOption(buildOption(chart) as any, true);
    } catch (e) {
      // keep the first rendering
    }
    return () => chart.dispose();
  }, []);
  return <div ref={ref} style={{ position: "fixed", left: 0, top: 0, width: 671, height: 663, background: "#fff" }} />;
}
